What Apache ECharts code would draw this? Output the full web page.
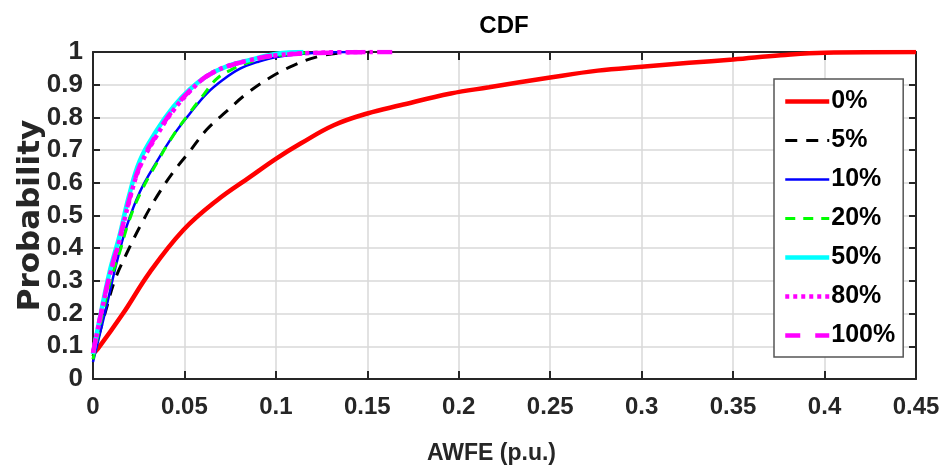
<!DOCTYPE html>
<html>
<head>
<meta charset="utf-8">
<script src="https://cdn.jsdelivr.net/npm/echarts@6/dist/echarts.min.js"></script>
<style>
  html, body { margin: 0; padding: 0; background: #fff; }
  #chart { width: 951px; height: 476px; }
</style>
</head>
<body>
<div id="chart"></div>
<script>
// Empirical CDF of AWFE for each penetration level (x in p.u., y = probability)
const seriesNames = ['0%', '5%', '10%', '20%', '50%', '80%', '100%'];

const x0   = [0, 0.0027, 0.0164, 0.0311, 0.0493, 0.0677, 0.0859, 0.1002, 0.1135, 0.1316, 0.150, 0.168, 0.1956, 0.2165, 0.25, 0.276, 0.30, 0.326, 0.35, 0.376, 0.4, 0.45];
const y0   = [0.078, 0.093, 0.20, 0.327, 0.455, 0.546, 0.618, 0.674, 0.72, 0.776, 0.812, 0.837, 0.873, 0.892, 0.922, 0.943, 0.955, 0.967, 0.977, 0.99, 0.998, 1.0];

const x5   = [0, 0.0073, 0.0119, 0.0183, 0.0265, 0.0348, 0.0439, 0.053, 0.0622, 0.0731, 0.0841, 0.0969, 0.1097, 0.1225, 0.135, 0.152];
const y5   = [0.07, 0.215, 0.302, 0.383, 0.475, 0.557, 0.633, 0.697, 0.763, 0.819, 0.873, 0.922, 0.959, 0.985, 0.997, 1.0];

const x10  = [0, 0.0073, 0.0128, 0.0183, 0.0256, 0.0348, 0.0439, 0.053, 0.0622, 0.0713, 0.0804, 0.0896, 0.1005, 0.1206, 0.139];
const y10  = [0.052, 0.22, 0.353, 0.465, 0.572, 0.664, 0.745, 0.812, 0.873, 0.916, 0.949, 0.969, 0.985, 0.997, 1.0];

const x20  = [0, 0.0091, 0.0146, 0.0192, 0.0256, 0.0348, 0.0439, 0.053, 0.0603, 0.0676, 0.075, 0.085, 0.1, 0.123];
const y20  = [0.06, 0.292, 0.388, 0.475, 0.565, 0.66, 0.745, 0.815, 0.868, 0.918, 0.944, 0.968, 0.988, 1.0];

const x50  = [0, 0.0037, 0.0091, 0.0146, 0.0195, 0.0256, 0.0348, 0.0439, 0.053, 0.0622, 0.0731, 0.0859, 0.1005, 0.115];
const y50  = [0.076, 0.185, 0.328, 0.44, 0.556, 0.668, 0.76, 0.832, 0.886, 0.926, 0.956, 0.976, 0.995, 1.0];

const x80  = [0, 0.0037, 0.0091, 0.0146, 0.0195, 0.0256, 0.0348, 0.0439, 0.053, 0.0622, 0.0731, 0.0859, 0.1005, 0.125, 0.153];
const y80  = [0.08, 0.18, 0.315, 0.425, 0.538, 0.648, 0.744, 0.821, 0.88, 0.926, 0.956, 0.975, 0.99, 0.998, 1.0];

const x100 = [0, 0.0037, 0.0091, 0.0146, 0.0195, 0.0256, 0.0348, 0.0439, 0.053, 0.0622, 0.0731, 0.0859, 0.1005, 0.13, 0.168];
const y100 = [0.08, 0.183, 0.318, 0.43, 0.542, 0.652, 0.748, 0.824, 0.882, 0.926, 0.955, 0.975, 0.99, 0.998, 1.0];

const xTicks = { min: 0, max: 0.45, step: 0.05 };
const yTicks = { min: 0, max: 1, step: 0.1 };

const zip = (xs, ys) => xs.map((x, i) => [x, ys[i]]);

const sans = '"Liberation Sans", Arial, sans-serif';
const axisColor = '#262626';
const gridColor = '#d9d9d9';

const styles = [
  { color: '#ff0000', width: 4.5, type: 'solid' },
  { color: '#000000', width: 3,   type: [12, 9] },
  { color: '#0000ff', width: 2.5, type: 'solid' },
  { color: '#00ff00', width: 3,   type: [10, 8] },
  { color: '#00ffff', width: 4.5, type: 'solid' },
  { color: '#ff00ff', width: 4.5, type: [4, 4] },
  { color: '#ff00ff', width: 4.5, type: [15, 15] }
];
const dataSets = [zip(x0, y0), zip(x5, y5), zip(x10, y10), zip(x20, y20), zip(x50, y50), zip(x80, y80), zip(x100, y100)];

const chart = echarts.init(document.getElementById('chart'), null, { renderer: 'canvas' });

const sideAxis = (extra) => Object.assign({
  type: 'value',
  axisLine: { show: true, onZero: false, lineStyle: { color: axisColor, width: 2 } },
  axisTick: { show: true, inside: true, length: 7, lineStyle: { color: axisColor, width: 2 } },
  axisLabel: { show: false },
  splitLine: { show: false }
}, extra);

chart.setOption({
  animation: false,
  backgroundColor: '#ffffff',
  title: {
    text: 'CDF',
    left: 499,
    top: 9,
    textAlign: 'center',
    textStyle: { fontFamily: sans, fontWeight: 'bold', fontSize: 24, color: '#000' }
  },
  grid: { left: 93, right: 35, top: 52, bottom: 97, containLabel: false, outerBoundsMode: 'none' },
  legend: {
    orient: 'vertical',
    left: 774,
    top: 79,
    padding: [8, 8, 7, 9],
    itemWidth: 44,
    itemHeight: 14,
    itemGap: 10,
    backgroundColor: '#ffffff',
    borderColor: '#555',
    borderWidth: 1.5,
    borderRadius: 0,
    itemStyle: { opacity: 0 },
    lineStyle: { width: 'inherit' },
    textStyle: { fontFamily: sans, fontWeight: 'bold', fontSize: 25, lineHeight: 29, color: '#000', padding: [0, 0, 0, -3] },
    data: seriesNames
  },
  xAxis: [
    {
      type: 'value',
      min: xTicks.min, max: xTicks.max, interval: xTicks.step,
      name: 'AWFE (p.u.)',
      nameLocation: 'middle',
      nameGap: 63,
      nameMoveOverlap: false,
      nameTextStyle: { fontFamily: sans, fontWeight: 'bold', fontSize: 23, color: axisColor, padding: [0, 26, 0, 0] },
      axisLine: { show: true, onZero: false, lineStyle: { color: axisColor, width: 2 } },
      axisTick: { show: true, inside: true, length: 8, lineStyle: { color: axisColor, width: 2 } },
      axisLabel: { fontFamily: sans, fontWeight: 'bold', fontSize: 24, color: axisColor, margin: 16 },
      splitLine: { show: true, lineStyle: { color: gridColor, width: 1.5 } }
    },
    sideAxis({ position: 'top', min: xTicks.min, max: xTicks.max, interval: xTicks.step, axisTick: { show: true, inside: true, length: 8, lineStyle: { color: axisColor, width: 2 } } })
  ],
  yAxis: [
    {
      type: 'value',
      min: yTicks.min, max: yTicks.max, interval: yTicks.step,
      name: 'Probability',
      nameLocation: 'middle',
      nameGap: 47,
      nameMoveOverlap: false,
      nameTextStyle: { fontFamily: '"DejaVu Sans", sans-serif', fontWeight: 'bold', fontSize: 31, color: axisColor },
      axisLine: { show: true, onZero: false, lineStyle: { color: axisColor, width: 2 } },
      axisTick: { show: true, inside: true, length: 7, lineStyle: { color: axisColor, width: 2 } },
      axisLabel: { fontFamily: sans, fontWeight: 'bold', fontSize: 26, color: axisColor, margin: 10 },
      splitLine: { show: true, lineStyle: { color: gridColor, width: 1.5 } }
    },
    sideAxis({ position: 'right', min: yTicks.min, max: yTicks.max, interval: yTicks.step })
  ],
  series: seriesNames.map((name, i) => ({
    name,
    type: 'line',
    xAxisIndex: 0,
    yAxisIndex: 0,
    data: dataSets[i],
    showSymbol: false,
    symbol: 'none',
    smooth: 0.4,
    color: styles[i].color,
    lineStyle: { color: styles[i].color, width: styles[i].width, type: styles[i].type, cap: 'butt' },
    z: 2 + i
  }))
});
</script>
</body>
</html>
